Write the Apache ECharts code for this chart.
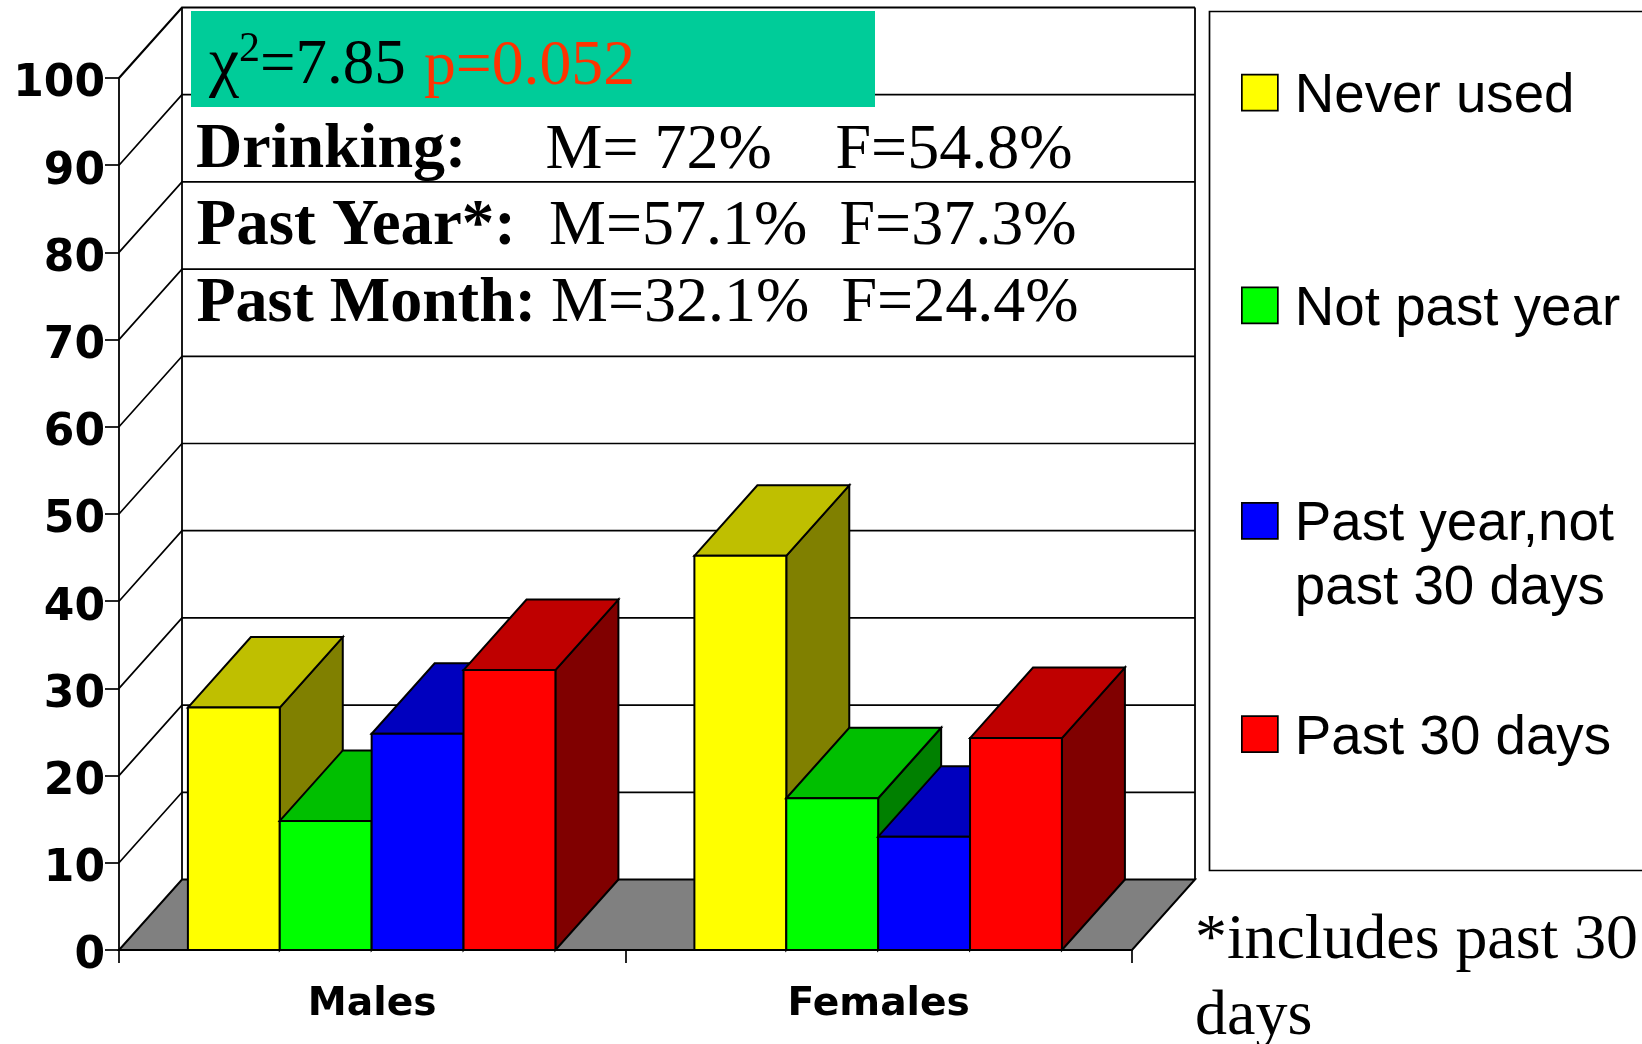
<!DOCTYPE html>
<html>
<head>
<meta charset="utf-8">
<style>html,body{margin:0;padding:0;background:#fff;overflow:hidden}#c{width:1642px;height:1044px}</style>
<script src="https://cdn.jsdelivr.net/npm/echarts@6/dist/echarts.min.js"></script>
</head>
<body>
<div id="c"></div>
<script>
var categories = ['Males', 'Females'];
var neverUsed = [27.8, 45.2];
var notPastYear = [14.8, 17.4];
var pastYearNot30 = [24.8, 13];
var past30Days = [32.1, 24.3];
var yTicks = [0, 10, 20, 30, 40, 50, 60, 70, 80, 90, 100];
var seriesNames = ['Never used', 'Not past year', 'Past year,not past 30 days', 'Past 30 days'];
var rowLabels = ['Drinking:', 'Past Year*:', 'Past Month:'];
var maleRates = ['M= 72%', 'M=57.1%', 'M=32.1%'];
var femaleRates = ['F=54.8%', 'F=37.3%', 'F=24.4%'];

var seriesValues = [neverUsed, notPastYear, pastYearNot30, past30Days];
var faceColors = ['#FFFF00', '#00FF00', '#0000FF', '#FF0000'];
var topColors = ['#BFBF00', '#00BF00', '#0000BF', '#BF0000'];
var sideColors = ['#808000', '#008000', '#00007F', '#800000'];
var depthX = 63, depthY = 70.5;
var barBand = 0.1814;
var INK = '#000';

function poly(points, fill, lw) {
  return {type: 'polygon', shape: {points: points},
    style: {fill: fill, stroke: INK, lineWidth: lw || 2, lineJoin: 'miter'}};
}
function barRenderer(idx) {
  return function (params, api) {
    var base = api.coord([api.value(0), 0]);
    var top = api.coord([api.value(0), api.value(1)]);
    var w = api.size([1, 0])[0] * barBand;
    var x0 = base[0] - 0.6 - 2 * w + idx * w, x1 = x0 + w;
    var yb = base[1], yt = top[1];
    return {type: 'group', children: [
      poly([[x1, yb], [x1 + depthX, yb - depthY], [x1 + depthX, yt - depthY], [x1, yt]], sideColors[idx]),
      poly([[x0, yt], [x0 + depthX, yt - depthY], [x1 + depthX, yt - depthY], [x1, yt]], topColors[idx]),
      poly([[x0, yb], [x1, yb], [x1, yt], [x0, yt]], faceColors[idx])
    ]};
  };
}
function wallRenderer(params, api) {
  var cs = params.coordSys;
  var v = api.value(1);
  var y = api.coord([0, v])[1];
  var L = cs.x, R = cs.x + cs.width;
  var kids = [];
  if (v === 0) {
    kids.push(poly([[L, y], [L + depthX, y - depthY], [R + depthX, y - depthY], [R, y]], '#808080'));
    kids.push({type: 'polyline', shape: {points: [[L + depthX, y - depthY], [L + depthX, cs.y - depthY]]},
      style: {fill: 'none', stroke: INK, lineWidth: 1.8}});
    kids.push({type: 'polyline', shape: {points: [[R + depthX, y - depthY], [R + depthX, cs.y - depthY]]},
      style: {fill: 'none', stroke: INK, lineWidth: 1.8}});
  } else {
    kids.push({type: 'polyline',
      shape: {points: [[L, y], [L + depthX, y - depthY], [R + depthX, y - depthY]]},
      style: {fill: 'none', stroke: INK, lineWidth: v === 100 ? 2.2 : 1.7}});
  }
  return {type: 'group', children: kids};
}

function txt(text, x, baseline, size, weight, fill, family) {
  return {type: 'text', z: 100, silent: true, x: x, y: baseline - 0.25 * size,
    style: {text: text, fill: fill || INK, verticalAlign: 'middle', align: 'left',
      font: (weight || 'normal') + ' ' + size + 'px ' + (family || '"Liberation Serif"')}};
}

var rowBase = [166.7, 243.3, 320];
var rowX = [196, 196.5, 196.5];
var rowSize = [64, 65, 64];
var maleX = [545.5, 549, 551];
var femaleX = [835.5, 839.5, 841.5];

var graphics = [
  {type: 'rect', z: 90, silent: true, shape: {x: 191, y: 11, width: 684, height: 96}, style: {fill: '#00CC99'}},
  txt('\u03C7', 209, 82.7, 68),
  txt('2', 239, 60, 42),
  txt('=7.85', 260, 82.7, 63),
  txt('p=0.052', 424, 82.7, 63.7, 'normal', '#FF3300'),
  {type: 'rect', z: 1, silent: true, shape: {x: 1209.5, y: 11.5, width: 500, height: 859},
    style: {fill: 'none', stroke: INK, lineWidth: 1.7}},
  txt('*includes past 30', 1195, 957, 63.8),
  txt('days', 1195, 1033.5, 64)
];
rowLabels.forEach(function (t, i) {
  graphics.push(txt(t, rowX[i], rowBase[i], rowSize[i], 'bold'));
  graphics.push(txt(maleRates[i], maleX[i], rowBase[i], 64));
  graphics.push(txt(femaleRates[i], femaleX[i], rowBase[i], 64));
});

var legendTops = [74.7, 287.3, 502.8, 716.2];
var legends = seriesNames.map(function (name, i) {
  return {
    data: [name], left: 1241, top: i === 2 ? legendTops[i] - 78 : legendTops[i] - 14,
    orient: 'vertical', itemWidth: 36, itemHeight: 36, icon: 'rect', selectedMode: false,
    padding: 0,
    itemStyle: {borderColor: INK, borderWidth: 1.7},
    formatter: function (n) {
      return n === seriesNames[2] ? '\n{t|Past year,not}\n{t|past 30 days}' : '{t|' + n + '}';
    },
    textStyle: {fontFamily: '"Liberation Sans"', fontSize: 54.7, color: INK, lineHeight: 64,
      padding: [0, 0, 0, 12],
      rich: {t: {fontFamily: '"Liberation Sans"', fontSize: 54.7, color: INK, lineHeight: 64,
        verticalAlign: 'bottom'}}}
  };
});

var series = [{
  type: 'custom', name: 'Wall', renderItem: wallRenderer, silent: true, z: 1,
  data: yTicks.map(function (t) { return [0, t]; }), encode: {x: 0, y: 1}
}];
seriesNames.forEach(function (name, i) {
  series.push({
    type: 'custom', name: name, renderItem: barRenderer(i), z: 2 + i,
    itemStyle: {color: faceColors[i]},
    data: seriesValues[i].map(function (v, c) { return [c, v]; }), encode: {x: 0, y: 1}
  });
});

var chart = echarts.init(document.getElementById('c'), null, {renderer: 'canvas'});
chart.setOption({
  animation: false,
  backgroundColor: '#fff',
  grid: {left: 119, top: 78, width: 1013, height: 872, containLabel: false},
  legend: legends,
  tooltip: {show: false},
  xAxis: {
    type: 'category', data: categories, z: 20,
    axisLine: {show: true, lineStyle: {color: INK, width: 2.2}},
    axisTick: {show: true, length: 13, alignWithLabel: false, lineStyle: {color: INK, width: 1.7}},
    axisLabel: {margin: 35, fontFamily: '"DejaVu Sans"', fontWeight: 'bold', fontSize: 39.2, color: INK, interval: 0},
    splitLine: {show: false}
  },
  yAxis: {
    type: 'value', min: 0, max: 100, interval: 10, z: 20,
    axisLine: {show: true, onZero: false, lineStyle: {color: INK, width: 1.8}},
    axisTick: {show: true, length: 14, lineStyle: {color: INK, width: 1.7}},
    axisLabel: {margin: 14, fontFamily: '"DejaVu Sans"', fontWeight: 'bold', fontSize: 44, color: INK,
      verticalAlign: 'top', lineHeight: 14, showMinLabel: true, showMaxLabel: true},
    splitLine: {show: false}
  },
  series: series,
  graphic: {elements: graphics}
});
</script>
</body>
</html>
